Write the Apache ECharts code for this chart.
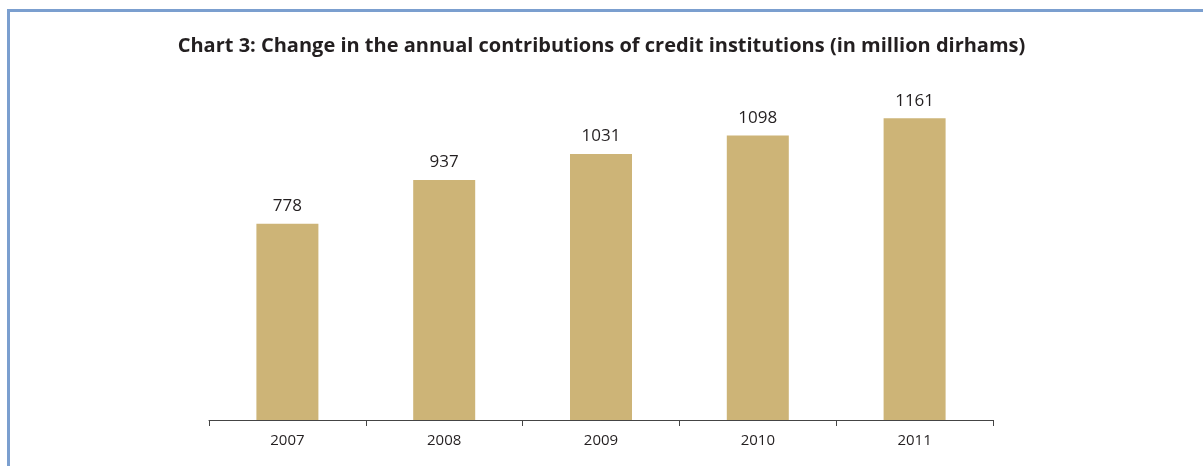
<!DOCTYPE html>
<html>
<head>
<meta charset="utf-8">
<script src="https://cdn.jsdelivr.net/npm/echarts@6/dist/echarts.min.js"></script>
<style>
  html, body { margin: 0; padding: 0; background: #fff; }
  #main { width: 1203px; height: 466px; }
</style>
</head>
<body>
<div id="main"></div>
<script>
// chart data
const years = ['2007', '2008', '2009', '2010', '2011'];
const contributions = [778, 937, 1031, 1098, 1161];

window.onload = function () {
  const chartDom = document.getElementById('main');
  const myChart = echarts.init(chartDom);

  const option = {
    animation: false,
    textStyle: { fontFamily: 'Open Sans' },
    title: {
      text: 'Chart 3: Change in the annual contributions of credit institutions (in million dirhams)',
      left: 'center',
      top: 31,
      textStyle: { fontSize: 20, fontWeight: 'bold', color: '#231f20', fontFamily: 'Open Sans' }
    },
    // frame lines (top and left)
    graphic: [
      { type: 'rect', shape: { x: 7, y: 9, width: 1196, height: 3 }, style: { fill: '#7b9fcf' } },
      { type: 'rect', shape: { x: 7, y: 9, width: 3, height: 457 }, style: { fill: '#7b9fcf' } }
    ],
    grid: { left: 209, right: 210, top: 80, bottom: 46 },
    xAxis: {
      type: 'category',
      data: years,
      boundaryGap: true,
      axisLine: { show: true, lineStyle: { color: '#444', width: 1 } },
      axisTick: { show: true, inside: false, alignWithLabel: false, interval: 0, length: 6, lineStyle: { color: '#444', width: 1 } },
      axisLabel: { color: '#231f20', fontSize: 15, margin: 13 }
    },
    yAxis: {
      type: 'value',
      min: 65,
      max: 1300,
      show: false,
      splitLine: { show: false }
    },
    series: [{
      type: 'bar',
      data: contributions,
      barWidth: 62,
      itemStyle: { color: '#cdb477' },
      label: {
        show: true,
        position: 'top',
        distance: 9,
        color: '#231f20',
        fontSize: 17
      }
    }]
  };

  option && myChart.setOption(option);
};
</script>
</body>
</html>
